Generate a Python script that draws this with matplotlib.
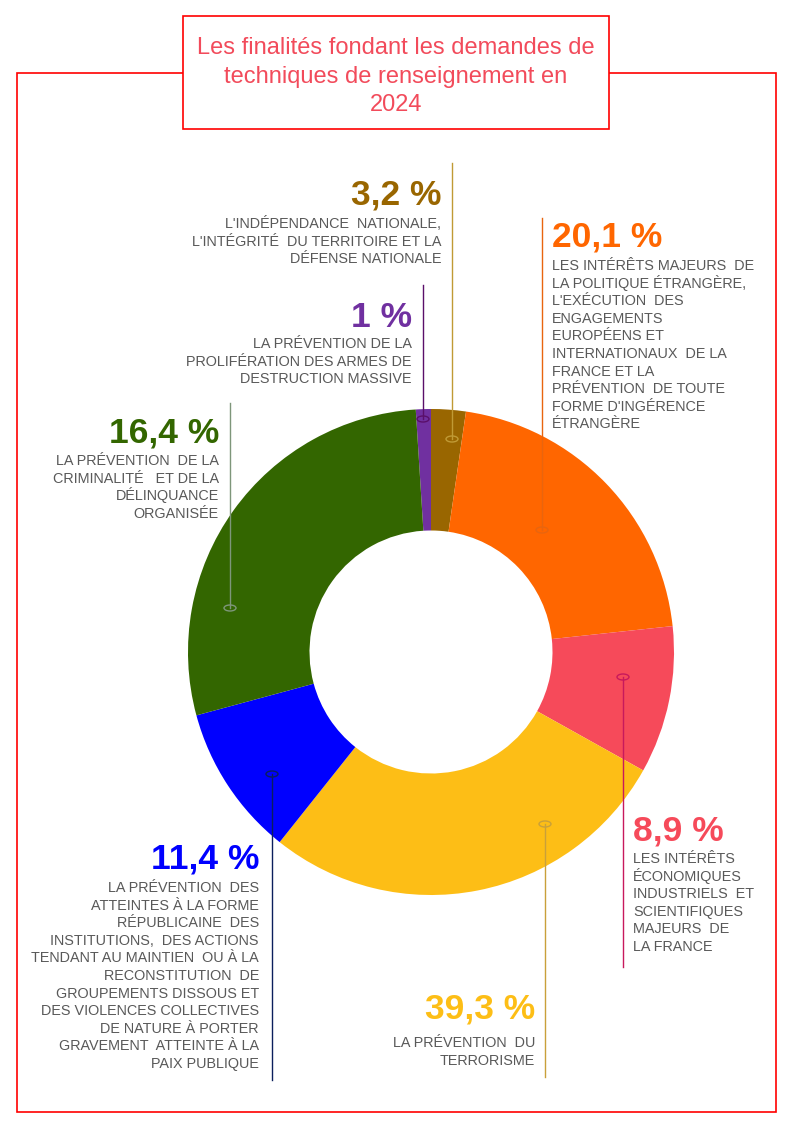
import matplotlib
matplotlib.use('Agg')
import matplotlib.pyplot as plt
from matplotlib.patches import Rectangle, Ellipse

plt.rcParams['font.family'] = ['Liberation Sans', 'DejaVu Sans']

W, H = 794, 1123

# secteurs dans l'ordre du dessin (sens horaire depuis le haut)
categories = ['prolifération', 'indépendance', 'politique étrangère',
              'intérêts économiques', 'terrorisme', 'forme républicaine',
              'criminalité']
# parts des secteurs telles qu'elles sont dessinées
shares = [1.0, 2.3, 21.0, 9.8, 27.6, 10.1, 28.2]
# étiquettes affichées
pct_labels = ['1 %', '3,2 %', '20,1 %', '8,9 %', '39,3 %', '11,4 %', '16,4 %']
descriptions = [
    ['LA PRÉVENTION DE LA', 'PROLIFÉRATION DES ARMES DE', 'DESTRUCTION MASSIVE'],
    ["L'INDÉPENDANCE  NATIONALE,", "L'INTÉGRITÉ  DU TERRITOIRE ET LA",
     'DÉFENSE NATIONALE'],
    ['LES INTÉRÊTS MAJEURS  DE', 'LA POLITIQUE ÉTRANGÈRE,',
     "L'EXÉCUTION  DES", 'ENGAGEMENTS', 'EUROPÉENS ET',
     'INTERNATIONAUX  DE LA', 'FRANCE ET LA', 'PRÉVENTION  DE TOUTE',
     "FORME D'INGÉRENCE", 'ÉTRANGÈRE'],
    ['LES INTÉRÊTS', 'ÉCONOMIQUES', 'INDUSTRIELS  ET', 'SCIENTIFIQUES',
     'MAJEURS  DE', 'LA FRANCE'],
    ['LA PRÉVENTION  DU', 'TERRORISME'],
    ['LA PRÉVENTION  DES', 'ATTEINTES À LA FORME', 'RÉPUBLICAINE  DES',
     'INSTITUTIONS,  DES ACTIONS', 'TENDANT AU MAINTIEN  OU À LA',
     'RECONSTITUTION  DE', 'GROUPEMENTS DISSOUS ET',
     'DES VIOLENCES COLLECTIVES', 'DE NATURE À PORTER',
     'GRAVEMENT  ATTEINTE À LA', 'PAIX PUBLIQUE'],
    ['LA PRÉVENTION  DE LA', 'CRIMINALITÉ   ET DE LA', 'DÉLINQUANCE',
     'ORGANISÉE'],
]
colors = ['#7030A0', '#996600', '#FF6600', '#F64A5A', '#FDBE16', '#0000FF', '#336600']
line_colors = ['#5A0F6A', '#C09A35', '#E8650F', '#C8195C', '#C9A03A', '#0B1F5C', '#7E967A']

# mise en page des étiquettes (pixels) : x texte, ligne de base %, ligne de base
# description, alignement, x repère, haut repère, bas repère, y ellipse
layout = [
    (412, 327, 348, 'right', 423, 285, 419, 419),
    (441, 205, 228, 'right', 452, 163, 439, 439),
    (552, 247, 270, 'left', 542, 218, 530, 530),
    (633, 840, 863, 'left', 623, 677, 967, 677),
    (535, 1018, 1047, 'right', 545, 824, 1077, 824),
    (259, 869, 892, 'right', 272, 774, 1080, 774),
    (219, 443, 465, 'right', 230, 403, 608, 608),
]

fig = plt.figure(figsize=(W / 100, H / 100), dpi=100)

# donut
cx, cy, r = 431, 652, 243
pax = fig.add_axes([(cx - r) / W, (H - cy - r) / H, 2 * r / W, 2 * r / H])
pax.pie(shares, colors=colors, startangle=93.6, counterclock=False,
        radius=1, wedgeprops=dict(width=0.5, linewidth=0))
pax.set_xlim(-1, 1)
pax.set_ylim(-1, 1)
pax.axis('off')

# calque en pixels pour cadre, textes et repères
ax = fig.add_axes([0, 0, 1, 1], facecolor='none')
ax.set_xlim(0, W)
ax.set_ylim(H, 0)
ax.axis('off')

ax.add_patch(Rectangle((16.5, 73), 759, 1039, fill=False, edgecolor='#FF0000', lw=1.2))
ax.add_patch(Rectangle((183, 16), 426, 113, facecolor='white', edgecolor='#FF0000', lw=1.2))
title_lines = ['Les finalités fondant les demandes de',
               'techniques de renseignement en', '2024']
for i, t in enumerate(title_lines):
    ax.text(396, 54 + i * 28.5, t, ha='center', va='baseline',
            fontsize=17, color='#F24B5B')

step = 17.6
for i in range(len(shares)):
    tx, py, dy, ha, lx, ly0, ly1, ey = layout[i]
    ax.plot([lx, lx], [ly0, ly1], color=line_colors[i], lw=1.0)
    ax.add_patch(Ellipse((lx, ey), 12, 6, fill=False, edgecolor=line_colors[i], lw=1.0))
    ax.text(tx, py, pct_labels[i], ha=ha, va='baseline', fontsize=25.5,
            fontweight='bold', color=colors[i])
    for j, line in enumerate(descriptions[i]):
        ax.text(tx, dy + j * step, line, ha=ha, va='baseline',
                fontsize=10.4, color='#595959')

fig.savefig('out.png', dpi=100)
